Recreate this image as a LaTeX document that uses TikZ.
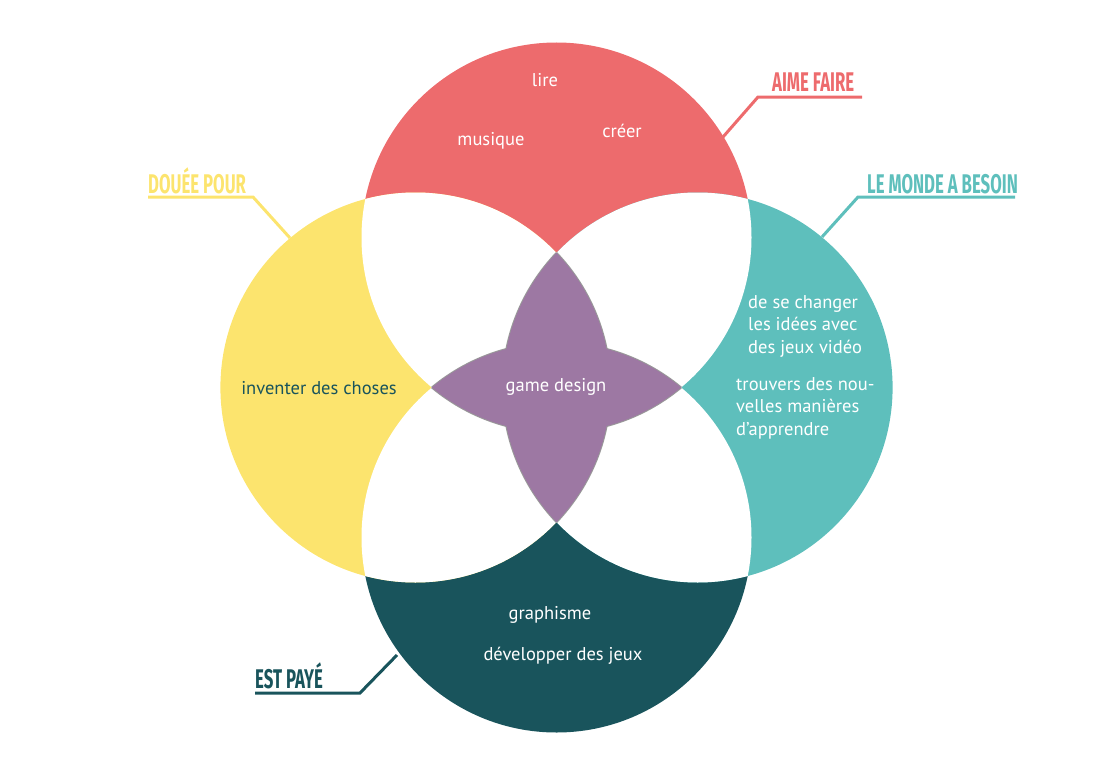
\documentclass[tikz,border=0pt]{standalone}
\usepackage{fontspec}
\setmainfont{PT Sans}
\newfontfamily\tagfont[FakeStretch=0.62]{Fira Sans}
\usetikzlibrary{positioning}
\definecolor{aimered}{HTML}{ED6B6D}
\definecolor{doueeyellow}{HTML}{FCE46E}
\definecolor{mondeteal}{HTML}{5EBFBC}
\definecolor{payedark}{HTML}{19545C}
\definecolor{gamepurple}{HTML}{9D78A3}
\tikzset{
    leader/.style={line width=3pt},
    tag/.style={font=\tagfont\bfseries\fontsize{27}{27}\selectfont, inner sep=0pt, anchor=base west},
    item/.style={font=\fontsize{18.5}{22.7}\selectfont, text=white, inner sep=0pt},
    ring/.style={radius=195pt}
}

\begin{document}
\begin{tikzpicture}
  [
    x = 1pt,
    y = -1pt,
  ]
  \useasboundingbox (0,0) rectangle (1097,776);

  \coordinate (ctop)   at (556.5,237.5);
  \coordinate (cbot)   at (556.5,537.5);
  \coordinate (cleft)  at (415.4,387.5);
  \coordinate (cright) at (697.6,387.5);

  % labels with their leaders
  \node [tag, text=aimered]     (aime)  at (772,92)  {AIME FAIRE};
  \node [tag, text=doueeyellow] (douee) at (148,193) {DOUÉE POUR};
  \node [tag, text=mondeteal]   (monde) at (867,193) {LE MONDE A BESOIN};
  \node [tag, text=payedark]    (paye)  at (255,688) {EST PAYÉ};

  \coordinate (aime-tip)  at (723,137);
  \coordinate (aime-knee) at (758,97);
  \coordinate (aime-end)  at (862,97);
  \coordinate (douee-tip)  at (290,238);
  \coordinate (douee-knee) at (253,197);
  \coordinate (douee-end)  at (148,197);
  \coordinate (monde-tip)  at (822,237);
  \coordinate (monde-knee) at (858,197);
  \coordinate (monde-end)  at (1015,197);
  \coordinate (paye-tip)  at (397,655);
  \coordinate (paye-knee) at (360,693);
  \coordinate (paye-end)  at (255,693);

  \draw [leader, aimered]     (aime-tip)  -- (aime-knee)  -- (aime-end);
  \draw [leader, doueeyellow] (douee-tip) -- (douee-knee) -- (douee-end);
  \draw [leader, mondeteal]   (monde-tip) -- (monde-knee) -- (monde-end);
  \draw [leader, payedark]    (paye-tip)  -- (paye-knee)  -- (paye-end);

  % the four circles
  \fill [aimered]     (ctop)   circle [ring];
  \fill [payedark]    (cbot)   circle [ring];
  \fill [doueeyellow] (cleft)  circle [ring];
  \fill [mondeteal]   (cright) circle [ring];

  % overlaps
  \foreach \a/\b in {ctop/cleft, ctop/cright, cbot/cleft, cbot/cright}
    {
      \begin{scope}
        \clip (\a) circle [ring];
        \fill [white] (\b) circle [ring];
      \end{scope}
    }
  \foreach \a/\b in {cleft/cright, cright/cleft, ctop/cbot, cbot/ctop}
    {
      \begin{scope}
        \clip (\a) circle [ring];
        \draw [gray!80, line width=2pt] (\b) circle [ring];
      \end{scope}
    }
  \foreach \a/\b in {cleft/cright, ctop/cbot}
    {
      \begin{scope}
        \clip (\a) circle [ring];
        \fill [gamepurple] (\b) circle [ring];
      \end{scope}
    }

  % texts
  \node [item] (lire)     at (545,80)  {lire};
  \node [item] (musique)  at (491,141) {musique};
  \node [item] (creer)    at (622,131) {créer};
  \node [item, text=payedark] (inventer) at (319,388) {inventer des choses};
  \node [item] (game)     at (556,387) {game design};
  \node [item, align=left, anchor=north west] (changer) at (748,295)
    {de se changer\\les idées avec\\des jeux vidéo};
  \node [item, align=left, anchor=north west] (trouver) at (736,377)
    {trouvers des nou-\\velles manières\\d’apprendre};
  \node [item] (graphisme)   at (550,615) {graphisme};
  \node [item] (developper)  at (563,656) {développer des jeux};
\end{tikzpicture}
\end{document}
